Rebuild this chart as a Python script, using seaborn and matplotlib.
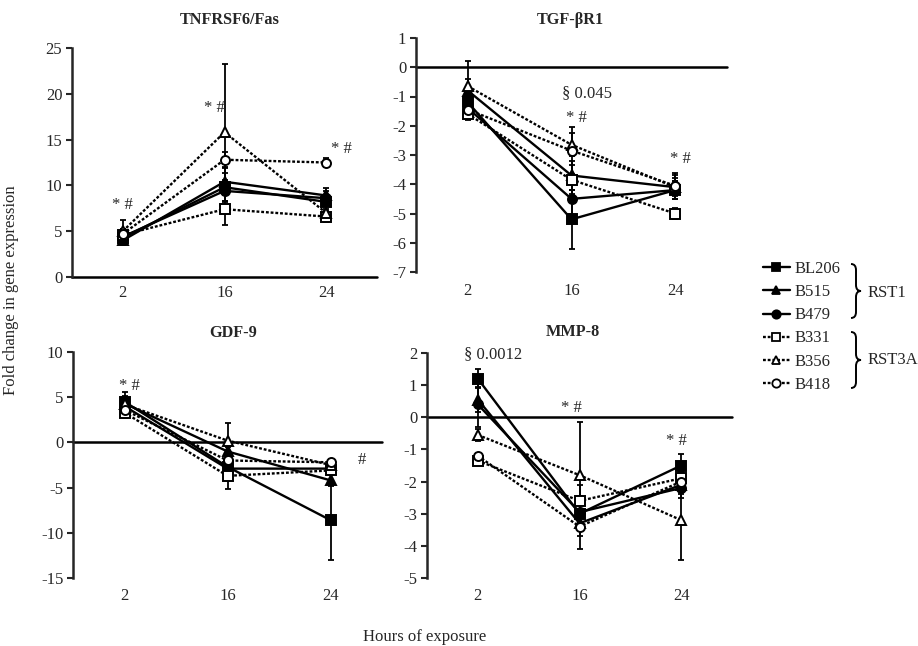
import numpy as np
import pandas as pd
import matplotlib.pyplot as plt
import seaborn as sns
from matplotlib.lines import Line2D
from matplotlib.path import Path
from matplotlib.patches import PathPatch

# strains and time points
strains = ["BL206", "B515", "B479", "B331", "B356", "B418"]
hours = ["2", "16", "24"]

# TNFRSF6/Fas (rows follow strains)
fas_mean = [[4.3, 9.8, 8.2], [4.0, 10.4, 8.9], [4.4, 9.4, 8.6],
            [4.6, 7.4, 6.6], [5.0, 15.8, 7.0], [4.7, 12.8, 12.5]]
fas_sd = [[0.5, 1.5, 0.8], [0.5, 1.5, 0.8], [0.5, 1.2, 0.8],
          [0.6, 1.7, 0.6], [1.2, 7.5, 1.0], [0.5, 0.8, 0.5]]

# TGF-bR1
tgf_mean = [[-1.2, -5.2, -4.2], [-0.8, -3.7, -4.1], [-1.4, -4.5, -4.2],
            [-1.6, -3.85, -5.0], [-0.65, -2.65, -4.1], [-1.45, -2.85, -4.05]]
tgf_sd = [[0.3, 1.0, 0.3], [0.4, 0.5, 0.3], [0.3, 0.6, 0.3],
          [0.2, 0.5, 0.2], [0.85, 0.4, 0.4], [0.2, 0.8, 0.45]]

# GDF-9
gdf_mean = [[4.5, -2.7, -8.6], [4.3, -1.0, -4.2], [4.0, -2.9, -2.9],
            [3.3, -3.7, -3.1], [4.2, 0.2, -2.5], [3.6, -2.0, -2.2]]
gdf_sd = [[1.1, 0.6, 4.4], [0.8, 0.5, 0.6], [0.6, 0.5, 0.5],
          [0.6, 1.5, 0.4], [0.6, 2.0, 0.4], [0.7, 0.5, 0.4]]

# MMP-8
mmp_mean = [[1.2, -3.0, -1.5], [0.55, -3.3, -2.1], [0.4, -2.95, -2.2],
            [-1.35, -2.6, -1.9], [-0.55, -1.8, -3.2], [-1.2, -3.4, -2.0]]
mmp_sd = [[0.3, 0.5, 0.35], [0.4, 0.4, 0.3], [0.7, 0.5, 0.3],
          [0.1, 0.5, 0.2], [0.2, 1.65, 1.25], [0.1, 0.7, 0.2]]

# significance notes: (text, x index, y value)
fas_notes = [("* #", 0, 7.9), ("* #", 0.9, 18.4), ("* #", 2.15, 14.0)]
tgf_notes = [("§ 0.045", 1.15, -0.9), ("* #", 1.05, -1.75), ("* #", 2.05, -3.15)]
gdf_notes = [("* #", 0.05, 6.2), ("#", 2.3, -2.0)]
mmp_notes = [("§ 0.0012", 0.15, 1.95), ("* #", 0.92, 0.3), ("* #", 1.95, -0.75)]

markers = ["s", "^", "o", "s", "^", "o"]
filled = [True, True, True, False, False, False]
dotted = (0, (1.2, 0.8))
FS = 12

sns.set_style("ticks")
plt.rcParams['font.family'] = ['Liberation Serif', 'DejaVu Serif']
plt.rcParams['axes.unicode_minus'] = False

W, H = 918, 646
fig = plt.figure(figsize=(W / 100, H / 100), dpi=100)


def px_rect(l, r, t, b):
    return [l / W, 1 - b / H, (r - l) / W, (b - t) / H]


def draw_panel(rect, means, sds, ylim, yticks, notes, title, title_xy, xpad):
    ax = fig.add_axes(px_rect(*rect))
    x = np.arange(len(hours))
    for i, s in enumerate(strains):
        fc = "black" if filled[i] else "white"
        ls = "-" if filled[i] else dotted
        ax.errorbar(x, means[i], yerr=sds[i], fmt="none", ecolor="black",
                    elinewidth=1.3, capsize=2.5, capthick=1.3, zorder=2)
        df = pd.DataFrame({"x": x, "y": means[i]})
        sns.lineplot(data=df, x="x", y="y", ax=ax, color="black", lw=1.7,
                     linestyle=ls, marker=markers[i], markersize=6.5,
                     markerfacecolor=fc, markeredgecolor="black",
                     markeredgewidth=1.4, zorder=3)
    ax.axhline(0, color="black", lw=1.8, clip_on=False, zorder=1)
    ax.set_xlim(-0.5, 2.5)
    ax.set_ylim(*ylim)
    ax.set_yticks(yticks)
    ax.set_xticks(x)
    ax.set_xticklabels(hours)
    ax.set_xlabel("")
    ax.set_ylabel("")
    for sp in ["top", "right", "bottom"]:
        ax.spines[sp].set_visible(False)
    ax.spines["left"].set_linewidth(1.8)
    ax.tick_params(axis="y", length=4, width=1.5, labelsize=FS, pad=3)
    ax.tick_params(axis="x", length=0, labelsize=FS, pad=xpad)
    for txt, nx, ny in notes:
        ax.text(nx, ny, txt, ha="center", va="center", fontsize=FS)
    fig.text(title_xy[0] / W, 1 - title_xy[1] / H, title, ha="center",
             va="center", fontsize=11.7, fontweight="bold")
    return ax


draw_panel((72, 377, 48, 277), fas_mean, fas_sd, (0, 25), range(0, 26, 5),
           fas_notes, "TNFRSF6/Fas", (230, 20), 6)
draw_panel((416, 727, 38, 272), tgf_mean, tgf_sd, (-7, 1), range(-7, 2),
           tgf_notes, "TGF-βR1", (570, 20), 8)
draw_panel((73, 382, 352, 578), gdf_mean, gdf_sd, (-15, 10), range(-15, 11, 5),
           gdf_notes, "GDF-9", (233, 333), 7)
draw_panel((427, 732, 353, 578), mmp_mean, mmp_sd, (-5, 2), range(-5, 3),
           mmp_notes, "MMP-8", (573, 332), 7)

fig.text(11 / W, 1 - 290 / H, "Fold change in gene expression", rotation=90,
         ha="center", va="center", fontsize=FS)
fig.text(425 / W, 1 - 637 / H, "Hours of exposure", ha="center", va="center",
         fontsize=FS)

# legend
handles = []
for i, s in enumerate(strains):
    handles.append(Line2D([0], [0], color="black", lw=1.7,
                          linestyle="-" if filled[i] else dotted,
                          marker=markers[i], markersize=6,
                          markerfacecolor="black" if filled[i] else "white",
                          markeredgewidth=1.3, label=s))
fig.legend(handles=handles, loc="upper left", bbox_to_anchor=(763 / W, 1 - 261 / H),
           frameon=False, fontsize=FS, handlelength=1.6, handletextpad=0.3,
           labelspacing=0.43, borderpad=0, borderaxespad=0)


def brace(x0, yt, yb, w=10, r=6):
    xm = x0 + w / 2
    x1 = x0 + w
    ym = (yt + yb) / 2
    pts = [(x0, yt), (xm, yt), (xm, yt + r), (xm, ym - r), (xm, ym), (x1, ym),
           (xm, ym), (xm, ym + r), (xm, yb - r), (xm, yb), (x0, yb)]
    codes = [Path.MOVETO, Path.CURVE3, Path.CURVE3, Path.LINETO, Path.CURVE3,
             Path.CURVE3, Path.CURVE3, Path.CURVE3, Path.LINETO, Path.CURVE3,
             Path.CURVE3]
    verts = [(px / W, 1 - py / H) for px, py in pts]
    fig.add_artist(PathPatch(Path(verts, codes), fill=False, lw=1.4,
                             edgecolor="black", transform=fig.transFigure))


brace(851, 264, 318)
brace(851, 332, 388)
fig.text(868 / W, 1 - 293 / H, "RST1", ha="left", va="center", fontsize=FS)
fig.text(868 / W, 1 - 360 / H, "RST3A", ha="left", va="center", fontsize=FS)

fig.savefig("out.png", dpi=100)
